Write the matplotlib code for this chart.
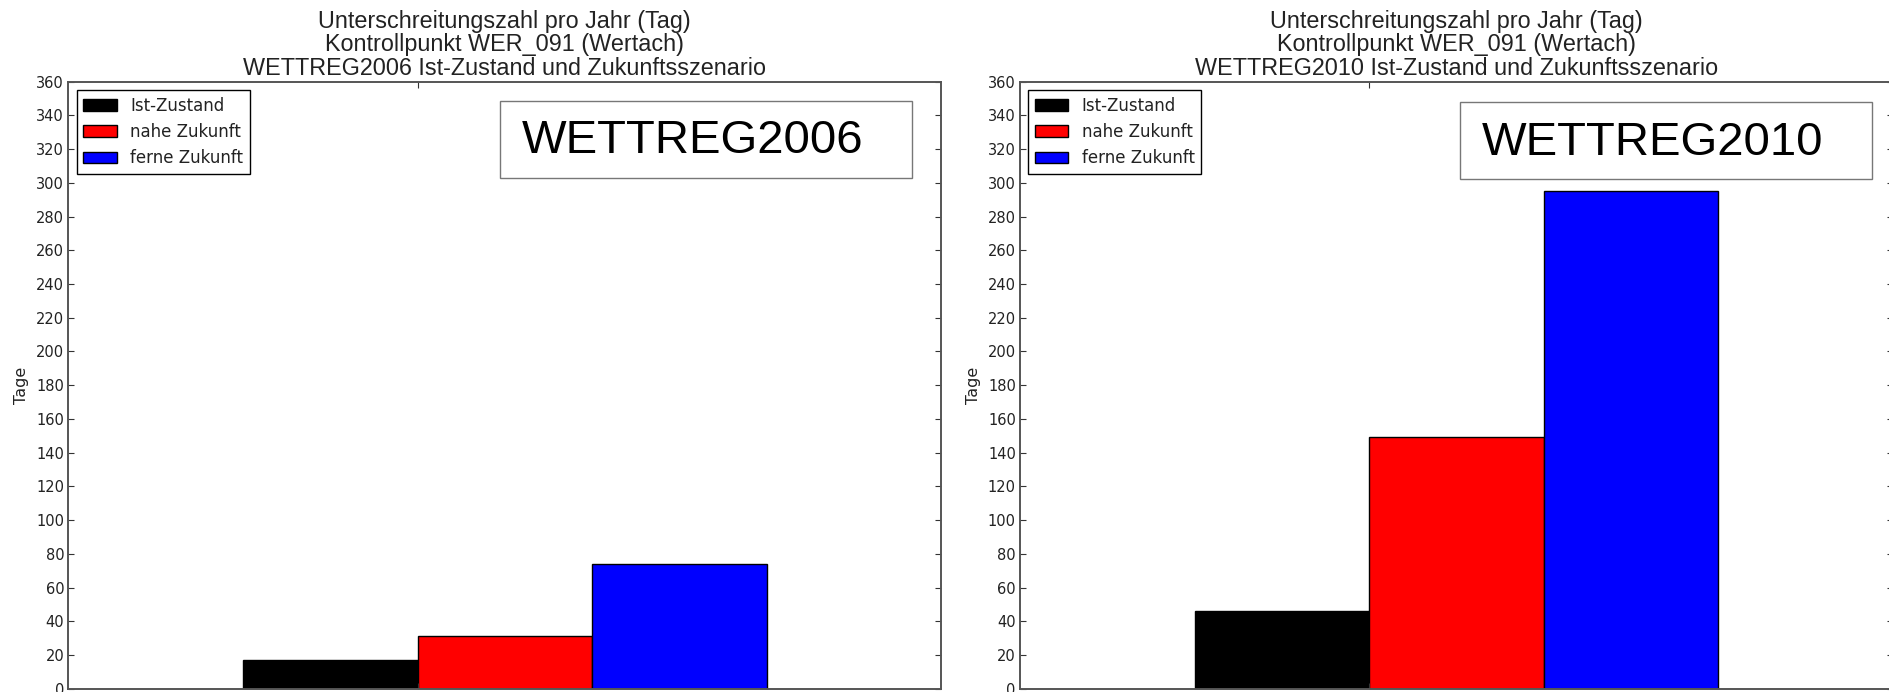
import matplotlib
matplotlib.use("Agg")
import matplotlib.pyplot as plt
from matplotlib.patches import Rectangle

# Data
series_labels = ["Ist-Zustand", "nahe Zukunft", "ferne Zukunft"]
series_colors = ["black", "red", "blue"]
values_2006 = [17, 31, 74]
values_2010 = [46, 149, 295]
models = ["WETTREG2006", "WETTREG2010"]
title_lines = ["Unterschreitungszahl pro Jahr (Tag)",
               "Kontrollpunkt WER_091 (Wertach)",
               "{} Ist-Zustand und Zukunftsszenario"]
y_ticks = list(range(0, 361, 20))
y_label = "Tage"

W, H = 1890, 692
fig = plt.figure(figsize=(W / 100, H / 100), dpi=100)

ax_w = 873 / W
ax_h = 607 / H
ax_b = 3.3 / H
panels = [
    (68.3 / W, values_2006, models[0], (0.4945, 0.842)),
    (1020 / W, values_2010, models[1], (0.504, 0.839)),
]

bar_width = 0.2
first_edge = 0.2

for left, vals, model, (bx, by) in panels:
    ax = fig.add_axes([left, ax_b, ax_w, ax_h])
    for i, (v, c, lab) in enumerate(zip(vals, series_colors, series_labels)):
        ax.bar(first_edge + i * bar_width, v, width=bar_width, align="edge",
               color=c, edgecolor="black", linewidth=1.0, label=lab)
    ax.set_xlim(0, 1)
    ax.set_ylim(0, 360)
    ax.set_yticks(y_ticks)
    ax.set_xticks([first_edge + bar_width])
    ax.set_xticklabels([""])
    ax.tick_params(axis="both", direction="in", length=4.5, width=0.8,
                   colors="#333333", labelcolor="#222222", labelsize=10.5,
                   top=True, right=True, pad=3)
    for sp in ax.spines.values():
        sp.set_color("#555555")
        sp.set_linewidth(1.4)
    ax.set_ylabel(y_label, fontsize=11.5, color="#222222", labelpad=5)
    title = "\n".join(title_lines).format(model)
    ax.set_title(title, fontsize=16.8, family="Liberation Sans",
                 color="#222222", pad=5, linespacing=1.02)
    leg = ax.legend(loc="upper left", fontsize=12, fancybox=False,
                    framealpha=1, edgecolor="black", borderaxespad=0.5,
                    handlelength=2.0, handleheight=0.7, labelspacing=0.5,
                    borderpad=0.4)
    leg.get_frame().set_linewidth(1.0)
    for t in leg.get_texts():
        t.set_color("#222222")
    # model name box
    ax.add_patch(Rectangle((bx, by), 0.472, 0.127, transform=ax.transAxes,
                           facecolor="white", edgecolor="#777777",
                           linewidth=1.0, zorder=5))
    ax.text(bx + 0.025, by + 0.127 / 2 - 0.004, model, transform=ax.transAxes,
            fontsize=34, family="Liberation Sans", color="black",
            ha="left", va="center", zorder=6)

fig.savefig("out.png", dpi=100)
